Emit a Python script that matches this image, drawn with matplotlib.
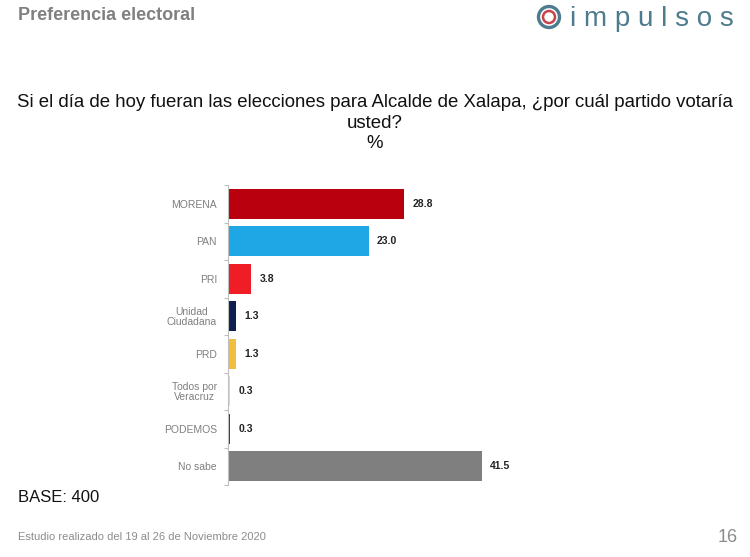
import matplotlib.pyplot as plt
from matplotlib.patches import Ellipse

plt.rcParams["font.family"] = ["Liberation Sans", "DejaVu Sans"]

# Data
partidos = ["MORENA", "PAN", "PRI", "Unidad\nCiudadana", "PRD",
            "Todos por\nVeracruz", "PODEMOS", "No sabe"]
porcentaje = [28.8, 23.0, 3.8, 1.3, 1.3, 0.3, 0.3, 41.5]
colores = ["#B8000E", "#1FA6E4", "#EE1D26", "#0E1F4E", "#F1BE3C",
           "#D9D9D9", "#34358A", "#7F7F7F"]

W, H = 750, 557
fig = plt.figure(figsize=(W / 100, H / 100), dpi=100)

# Header
fig.text(18 / W, 1 - 16 / H, "Preferencia electoral", fontsize=13,
         fontweight="bold", color="#808080", va="center", ha="left")

# Logo
logo_color = "#4E7C8E"
cx, cy = 549 / W, 1 - 17 / H
fig.patches.append(Ellipse((cx, cy), 21 / W, 21 / H, transform=fig.transFigure,
                           fill=False, lw=2.4, ec=logo_color))
fig.patches.append(Ellipse((cx, cy), 12 / W, 12 / H, transform=fig.transFigure,
                           fill=False, lw=1.8, ec="#C8434A"))
fig.text(570 / W, 1 - 19 / H, "i m p u l s o s", fontsize=20, color=logo_color,
         va="center", ha="left")

# Title
fig.text(0.5, 1 - 123 / H,
         "Si el día de hoy fueran las elecciones para Alcalde de Xalapa, ¿por cuál partido votaría\nusted?\n%",
         fontsize=13.4, ha="center", va="center", linespacing=1.3, color="#111111")

ax = fig.add_axes([228 / W, 72 / H, 297 / W, 300 / H])
y = list(range(len(partidos)))
ax.barh(y, porcentaje, height=0.8, color=colores)
for yi, v in zip(y, porcentaje):
    ax.text(v + 1.4, yi, f"{v:.1f}", va="center", ha="left", fontsize=7.5,
            fontweight="bold", color="#222222")

ax.set_ylim(len(partidos) - 0.5, -0.5)
ax.set_xlim(0, 48.6)
ax.set_yticks(y)
ax.set_yticklabels(partidos, fontsize=7.5, color="#7F7F7F", multialignment="center",
                   linespacing=1.0)
ax.set_yticks([i - 0.5 for i in range(len(partidos) + 1)], minor=True)
ax.tick_params(axis="y", which="major", length=0, pad=8)
ax.tick_params(axis="y", which="minor", length=3, color="#BFBFBF", width=0.8)
ax.set_xticks([])
for s in ["top", "right", "bottom"]:
    ax.spines[s].set_visible(False)
ax.spines["left"].set_color("#BFBFBF")
ax.spines["left"].set_linewidth(0.8)

# Footer
fig.text(18 / W, 1 - 498 / H, "BASE: 400", fontsize=12, color="#111111",
         va="center", ha="left")
fig.text(18 / W, 1 - 537 / H, "Estudio realizado del 19 al 26 de Noviembre 2020",
         fontsize=8, color="#8C8C8C", va="center", ha="left")
fig.text(738 / W, 1 - 538 / H, "16", fontsize=13, color="#8C8C8C",
         va="center", ha="right")

fig.savefig("out.png", dpi=100)
